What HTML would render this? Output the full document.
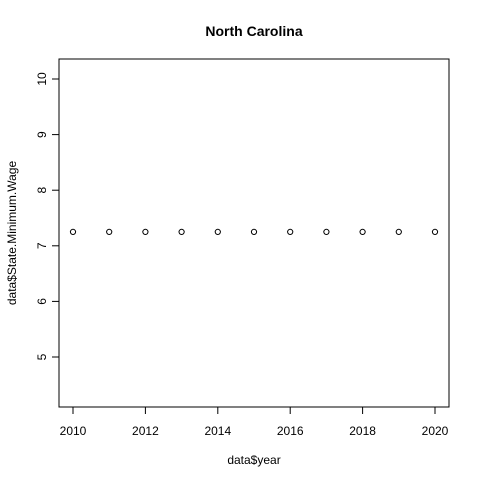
<!DOCTYPE html>
<html><head><meta charset="utf-8"><style>
html,body{margin:0;padding:0;background:#fff;}
svg{display:block;font-family:"Liberation Sans",Arial,sans-serif;}
</style></head><body>
<svg id="chart" width="480" height="480" viewBox="0 0 480 480">
<rect x="0" y="0" width="480" height="480" fill="#fff"/>
<text x="254" y="36" text-anchor="middle" font-size="14" font-weight="bold">North Carolina</text>
<rect x="59" y="59" width="390" height="348" fill="none" stroke="#000" stroke-width="1"/>
<g id="xaxis"></g>
<g id="yaxis"></g>
<g id="points"></g>
<text x="254" y="464" text-anchor="middle" font-size="12">data$year</text>
<text x="0" y="0" transform="translate(16,233) rotate(-90)" text-anchor="middle" font-size="12">data$State.Minimum.Wage</text>
</svg>
<script>
const years = [2010,2011,2012,2013,2014,2015,2016,2017,2018,2019,2020];
const wages = [7.25,7.25,7.25,7.25,7.25,7.25,7.25,7.25,7.25,7.25,7.25];
const xTicks = [2010,2012,2014,2016,2018,2020];
const yTicks = [5,6,7,8,9,10];
const NS="http://www.w3.org/2000/svg";
function xs(v){return 73+(v-2010)*36.2;}
function ys(v){return 357-(v-5)*55.6;}
function mk(tag,attrs,parent){const e=document.createElementNS(NS,tag);for(const k in attrs)e.setAttribute(k,attrs[k]);parent.appendChild(e);return e;}
const xa=document.getElementById('xaxis'),ya=document.getElementById('yaxis'),pg=document.getElementById('points');
mk('line',{x1:xs(xTicks[0]),x2:xs(xTicks[xTicks.length-1]),y1:407,y2:407,stroke:'#000'},xa);
xTicks.forEach(t=>{
  const l=mk('line',{x1:xs(t),x2:xs(t),y1:407,y2:414,stroke:'#000'},xa);
  
  
  const tx=mk('text',{x:xs(t),y:435,'text-anchor':'middle','font-size':12},xa);
  tx.textContent=t;
  
  
});
mk('line',{x1:59,x2:59,y1:ys(yTicks[0]),y2:ys(yTicks[yTicks.length-1]),stroke:'#000'},ya);
yTicks.forEach(t=>{
  const l=mk('line',{x1:52,x2:59,y1:ys(t),y2:ys(t),stroke:'#000'},ya);
  
  
  const tx=mk('text',{x:0,y:0,transform:'translate(46,'+ys(t)+') rotate(-90)','text-anchor':'middle','font-size':12},ya);
  tx.textContent=t;
  
  
});
years.forEach((y,i)=>{
  const c=mk('circle',{cx:xs(y),cy:ys(wages[i]),r:2.6,fill:'none',stroke:'#000','stroke-width':1},pg);
  
  
});
</script>
</body></html>
